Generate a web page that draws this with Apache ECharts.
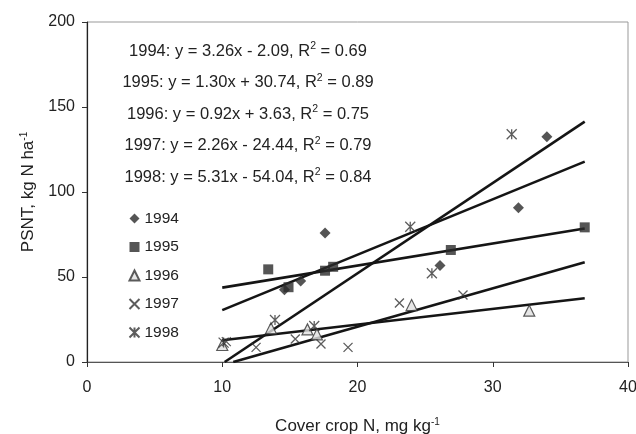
<!DOCTYPE html>
<html>
<head>
<meta charset="utf-8">
<script src="https://cdn.jsdelivr.net/npm/echarts@6/dist/echarts.min.js"></script>
<style>
  html, body { margin: 0; padding: 0; background: #fff; }
  #chart { width: 636px; height: 434px; }
</style>
</head>
<body>
<div id="chart"></div>
<script>
// years and measured points [cover crop N, PSNT]
var years = ['1994', '1995', '1996', '1997', '1998'];
var pts1994 = [[14.6, 42.5], [15.8, 47.6], [17.6, 75.9], [26.1, 56.7], [31.9, 90.8], [34.0, 132.5]];
var pts1995 = [[13.4, 54.5], [14.9, 44.0], [17.6, 53.7], [18.2, 56.0], [26.9, 65.9], [36.8, 79.2]];
var pts1996 = [[10.0, 10.0], [13.6, 19.8], [16.3, 19.2], [17.0, 16.3], [24.0, 33.5], [32.7, 30.2]];
var pts1997 = [[10.3, 12.0], [12.5, 8.6], [15.4, 13.5], [17.3, 10.6], [19.3, 8.6], [23.1, 34.7], [27.8, 39.4]];
var pts1998 = [[10.1, 11.4], [13.9, 24.7], [16.8, 21.2], [23.9, 79.6], [25.5, 52.2], [31.4, 134.0]];

// regression lines from the equations printed on the chart
var slopes = [3.26, 1.30, 0.92, 2.26, 5.31];
var intercepts = [-2.09, 30.74, 3.63, -24.44, -54.04];
var r2 = ['0.69', '0.89', '0.75', '0.79', '0.84'];
var fitRange = [10, 36.8];

var xTicks = [0, 10, 20, 30, 40];
var yTicks = [0, 50, 100, 150, 200];

var ink = '#222';
var pts = [pts1994, pts1995, pts1996, pts1997, pts1998];
var symbols = [
  'diamond',
  'rect',
  'triangle',
  'path://M0,0L10,10M10,0L0,10',
  'path://M0,0L10,10M10,0L0,10M5,0L5,10'
];
var sizes = [11, 10, 11, 9, 10];
var styles = [
  { color: '#2a2a2a' },
  { color: '#2a2a2a' },
  { color: '#e0e0e0', borderColor: '#333', borderWidth: 1.2 },
  { color: 'none', borderColor: '#333', borderWidth: 1.3 },
  { color: 'none', borderColor: '#333', borderWidth: 1.3 }
];

var series = [];
years.forEach(function (yr, i) {
  var a = slopes[i], b = intercepts[i];
  var x0 = Math.max(fitRange[0], -b / a);
  series.push({
    name: 'fit' + yr,
    type: 'line',
    data: [[x0, a * x0 + b], [fitRange[1], a * fitRange[1] + b]],
    symbol: 'none',
    lineStyle: { color: '#151515', width: 2.6 },
    z: 2,
    silent: true
  });
});
years.forEach(function (yr, i) {
  series.push({
    name: yr,
    type: 'scatter',
    data: pts[i],
    symbol: symbols[i],
    symbolSize: sizes[i],
    itemStyle: styles[i],
    z: 3
  });
});

var eqTexts = years.map(function (yr, i) {
  var b = intercepts[i];
  var sign = b < 0 ? ' - ' : ' + ';
  return yr + ': y = ' + slopes[i].toFixed(2) + 'x' + sign + Math.abs(b).toFixed(2) +
    ', R{sup|2} = ' + r2[i];
});

var supStyle = { fontSize: 10, verticalAlign: 'top', padding: [0, 0, 8, 0], color: ink };

var chart = echarts.init(document.getElementById('chart'), null, { renderer: 'canvas' });
chart.setOption({
  backgroundColor: '#fff',
  animation: false,
  textStyle: { fontFamily: 'Liberation Sans, Arial, sans-serif', color: ink },
  grid: {
    left: 87, right: 8, top: 22, bottom: 72,
    outerBoundsMode: 'none', containLabel: false,
    show: true, borderColor: '#999', borderWidth: 1
  },
  xAxis: {
    type: 'value', min: xTicks[0], max: xTicks[xTicks.length - 1], interval: 10,
    name: 'Cover crop N, mg kg{sup|-1}', nameLocation: 'middle', nameGap: 55,
    nameTextStyle: { fontSize: 17, color: ink, rich: { sup: supStyle } },
    axisLine: { lineStyle: { color: '#555', width: 1.2 } },
    axisTick: { inside: false, length: 5, lineStyle: { color: '#333' } },
    axisLabel: { fontSize: 16, color: ink, margin: 18 },
    splitLine: { show: false }
  },
  yAxis: {
    type: 'value', min: yTicks[0], max: yTicks[yTicks.length - 1], interval: 50,
    name: 'PSNT, kg N ha{sup|-1}', nameLocation: 'middle', nameGap: 50,
    nameTextStyle: { fontSize: 17, color: ink, rich: { sup: supStyle } },
    axisLine: { lineStyle: { color: '#222', width: 1.2 } },
    axisTick: { inside: false, length: 5, lineStyle: { color: '#333' } },
    axisLabel: { fontSize: 16, color: ink, margin: 12 },
    splitLine: { show: false }
  },
  legend: {
    data: years,
    orient: 'vertical',
    left: 127, top: 210,
    padding: 0,
    itemWidth: 10, itemHeight: 10,
    itemGap: 11.5,
    textStyle: { fontSize: 15.5, color: ink, lineHeight: 17 },
    selectedMode: false
  },
  graphic: eqTexts.map(function (t, i) {
    return {
      type: 'text',
      x: 248, y: 51 + i * 31.5,
      style: {
        text: t, align: 'center', verticalAlign: 'middle',
        fontSize: 16.5, fontFamily: 'Liberation Sans, Arial, sans-serif', fill: ink,
        rich: { sup: { fontSize: 10.5, verticalAlign: 'top', padding: [0, 0, 9, 0], fill: ink } }
      },
      z: 10
    };
  }),
  series: series
});
</script>
</body>
</html>
